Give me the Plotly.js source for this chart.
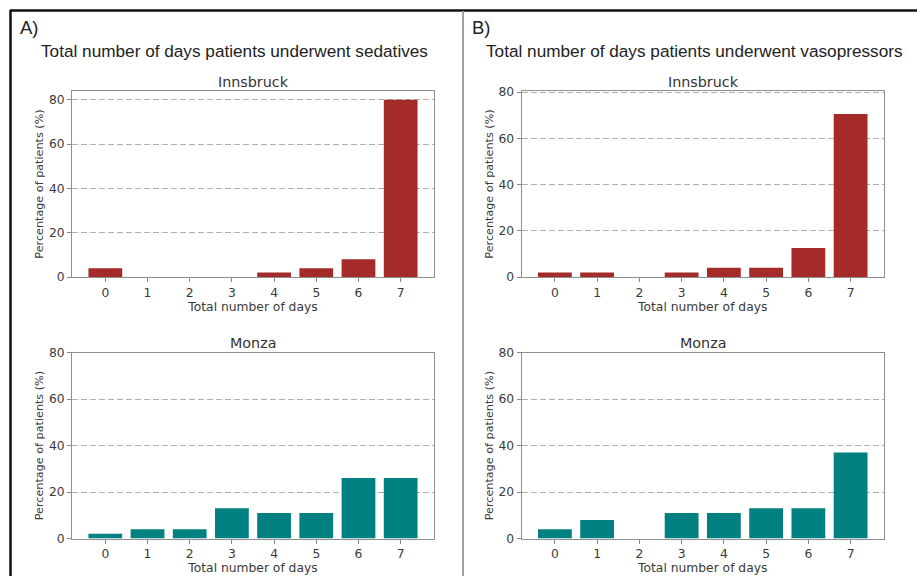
<!DOCTYPE html>
<html>
<head>
<meta charset="utf-8">
<script src="https://cdn.plot.ly/plotly-3.0.1.min.js"></script>
<style>html,body{margin:0;padding:0;background:#fff;}#chart{width:917px;height:576px;}</style>
</head>
<body>
<div id="chart"></div>
<script>
// ---- data ----
const days = [0, 1, 2, 3, 4, 5, 6, 7];
const dayLabels = ["0", "1", "2", "3", "4", "5", "6", "7"];
const sedativesInnsbruck = [4, 0, 0, 0, 2, 4, 8, 80];
const sedativesMonza = [2, 4, 4, 13, 11, 11, 26, 26];
const vasopressorsInnsbruck = [2, 2, 0, 2, 4, 4, 12.5, 70.5];
const vasopressorsMonza = [4, 8, 0, 11, 11, 13, 13, 37];
const yTicks = [0, 20, 40, 60, 80];
const panelTitles = ["Total number of days patients underwent sedatives", "Total number of days patients underwent vasopressors"];
const panelLetters = ["A)", "B)"];
const centres = ["Innsbruck", "Monza"];

// ---- layout helpers ----
const W = 917, H = 576;
const px = x => x / W;
const py = y => 1 - y / H;
const RED = "#a52a2a", TEAL = "#008080";
const tickFont = {family: "DejaVu Sans", size: 12.3, color: "#3a3a3a"};
const xLabFont = {family: "DejaVu Sans", size: 12.3, color: "#3a3a3a"};
const yLabFont = {family: "DejaVu Sans", size: 11.2, color: "#3a3a3a"};

function xAxis(x0, x1, anchor) {
  return {
    domain: [px(x0), px(x1)], anchor: anchor, range: [-0.79, 7.79],
    tickmode: "array", tickvals: days, ticktext: dayLabels,
    ticks: "outside", ticklen: 4, tickcolor: "#888", tickfont: tickFont,
    showline: true, linecolor: "#8f8f8f", linewidth: 1, mirror: true,
    showgrid: false, zeroline: false, fixedrange: true,
    title: {text: "Total number of days", font: xLabFont, standoff: 0}
  };
}
function yAxis(y0, y1, anchor, top) {
  return {
    domain: [py(y1), py(y0)], anchor: anchor, range: [0, top],
    tickmode: "array", tickvals: yTicks,
    ticks: "outside", ticklen: 4, tickcolor: "#888", tickfont: tickFont,
    showline: true, linecolor: "#8f8f8f", linewidth: 1, mirror: true,
    showgrid: true, gridcolor: "#b0b0b0", griddash: "6px,3px", gridwidth: 1,
    zeroline: false, fixedrange: true,
    title: {text: "Percentage of patients (%)", font: yLabFont, standoff: 2}
  };
}

const traces = [
  {x: days, y: sedativesInnsbruck, xaxis: "x", yaxis: "y", color: RED},
  {x: days, y: vasopressorsInnsbruck, xaxis: "x2", yaxis: "y2", color: RED},
  {x: days, y: sedativesMonza, xaxis: "x3", yaxis: "y3", color: TEAL},
  {x: days, y: vasopressorsMonza, xaxis: "x4", yaxis: "y4", color: TEAL}
].map(t => ({
  type: "bar", x: t.x, y: t.y, xaxis: t.xaxis, yaxis: t.yaxis, width: 0.8,
  marker: {color: t.color, line: {width: 0}}, showlegend: false, hoverinfo: "x+y"
}));

const layout = {
  width: W, height: H,
  margin: {l: 0, r: 0, t: 0, b: 0},
  paper_bgcolor: "#fff", plot_bgcolor: "#fff",
  showlegend: false, bargap: 0.2,
  xaxis: xAxis(72, 434, "y"),
  yaxis: yAxis(91, 277, "x", 84),
  xaxis2: xAxis(521.5, 884, "y2"),
  yaxis2: yAxis(91, 277, "x2", 80.5),
  xaxis3: xAxis(72, 434, "y3"),
  yaxis3: yAxis(352.7, 538.5, "x3", 80),
  xaxis4: xAxis(521.5, 884, "y4"),
  yaxis4: yAxis(352.7, 538.5, "x4", 80),
  shapes: [
    {type: "line", xref: "paper", yref: "paper", x0: px(10), x1: px(917), y0: py(10.5), y1: py(10.5), line: {color: "#111", width: 2.5}},
    {type: "line", xref: "paper", yref: "paper", x0: px(10.5), x1: px(10.5), y0: py(10), y1: py(576), line: {color: "#111", width: 2.5}},
    {type: "line", xref: "paper", yref: "paper", x0: px(463), x1: px(463), y0: py(11), y1: py(576), line: {color: "#a0a0a0", width: 2}}
  ],
  annotations: [
    {text: panelLetters[0], x: px(18), y: py(27), xanchor: "left", yanchor: "middle", kind: "letter"},
    {text: panelLetters[1], x: px(470), y: py(27), xanchor: "left", yanchor: "middle", kind: "letter"},
    {text: panelTitles[0], x: px(235), y: py(51), xanchor: "center", yanchor: "middle", kind: "title"},
    {text: panelTitles[1], x: px(694), y: py(51), xanchor: "center", yanchor: "middle", kind: "title"},
    {text: centres[0], x: px(253), y: py(82), xanchor: "center", yanchor: "middle", kind: "sub"},
    {text: centres[0], x: px(703), y: py(82), xanchor: "center", yanchor: "middle", kind: "sub"},
    {text: centres[1], x: px(253), y: py(343), xanchor: "center", yanchor: "middle", kind: "sub"},
    {text: centres[1], x: px(703), y: py(343), xanchor: "center", yanchor: "middle", kind: "sub"}
  ].map(a => ({
    text: a.text, x: a.x, y: a.y, xref: "paper", yref: "paper",
    xanchor: a.xanchor, yanchor: a.yanchor, showarrow: false,
    font: a.kind === "sub" ? {family: "DejaVu Sans", size: 14.3, color: "#333"}
        : a.kind === "title" ? {family: "Liberation Sans", size: 17.2, color: "#222"}
        : {family: "Liberation Sans", size: 18.5, color: "#222"}
  }))
};

Plotly.newPlot("chart", traces, layout, {displayModeBar: false, staticPlot: true});
</script>
</body>
</html>
